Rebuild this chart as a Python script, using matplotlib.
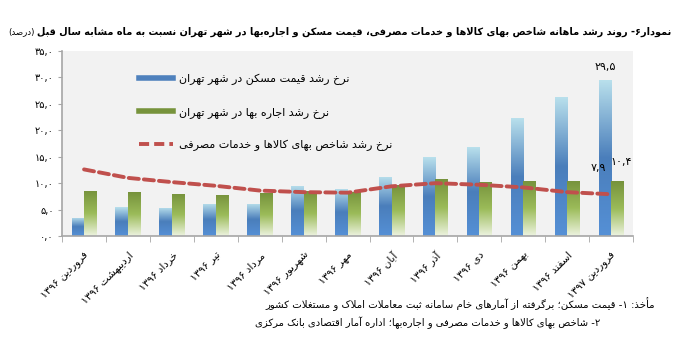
import re

import matplotlib
matplotlib.use('Agg')
import matplotlib.pyplot as plt
import numpy as np
from matplotlib.colors import LinearSegmentedColormap
from matplotlib.lines import Line2D
from matplotlib.ticker import FuncFormatter

# data (percent, y/y growth, Tehran)
months = ['فروردین ۱۳۹۶', 'اردیبهشت ۱۳۹۶', 'خرداد ۱۳۹۶', 'تیر ۱۳۹۶', 'مرداد ۱۳۹۶',
          'شهریور ۱۳۹۶', 'مهر ۱۳۹۶', 'آبان ۱۳۹۶', 'آذر ۱۳۹۶', 'دی ۱۳۹۶',
          'بهمن ۱۳۹۶', 'اسفند ۱۳۹۶', 'فروردین ۱۳۹۷']
housing_price = [3.5, 5.4, 5.3, 6.1, 6.1, 9.5, 8.9, 11.2, 14.9, 16.8, 22.3, 26.3, 29.5]
rent = [8.6, 8.3, 8.0, 7.8, 8.1, 8.5, 8.4, 9.6, 10.7, 10.3, 10.5, 10.5, 10.4]
cpi = [12.6, 11.0, 10.2, 9.5, 8.6, 8.3, 8.2, 9.4, 10.0, 9.7, 9.2, 8.3, 7.9]

series_names = ['نرخ رشد قیمت مسکن در شهر تهران',
                'نرخ رشد اجاره بها در شهر تهران',
                'نرخ رشد شاخص بهای کالاها و خدمات مصرفی']
title = 'نمودار۶- روند رشد ماهانه شاخص بهای کالاها و خدمات مصرفی، قیمت مسکن و اجاره‌بها در شهر تهران نسبت به ماه مشابه سال قبل'
title_unit = '(درصد)'
source_1 = 'مأخذ: ۱- قیمت مسکن؛ برگرفته از آمارهای خام سامانه ثبت معاملات املاک و مستغلات کشور'
source_2 = '۲- شاخص بهای کالاها و خدمات مصرفی و اجاره‌بها؛ اداره آمار اقتصادی بانک مرکزی'


# --- minimal Persian shaping + RTL reordering (matplotlib has no text shaping) ---
FORMS = {
    'ء': (0xFE80, 1), 'آ': (0xFE81, 2), 'أ': (0xFE83, 2), 'ؤ': (0xFE85, 2), 'إ': (0xFE87, 2),
    'ئ': (0xFE89, 4), 'ا': (0xFE8D, 2), 'ب': (0xFE8F, 4), 'ة': (0xFE93, 2), 'ت': (0xFE95, 4),
    'ث': (0xFE99, 4), 'ج': (0xFE9D, 4), 'ح': (0xFEA1, 4), 'خ': (0xFEA5, 4), 'د': (0xFEA9, 2),
    'ذ': (0xFEAB, 2), 'ر': (0xFEAD, 2), 'ز': (0xFEAF, 2), 'س': (0xFEB1, 4), 'ش': (0xFEB5, 4),
    'ص': (0xFEB9, 4), 'ض': (0xFEBD, 4), 'ط': (0xFEC1, 4), 'ظ': (0xFEC5, 4), 'ع': (0xFEC9, 4),
    'غ': (0xFECD, 4), 'ف': (0xFED1, 4), 'ق': (0xFED5, 4), 'ك': (0xFED9, 4), 'ل': (0xFEDD, 4),
    'م': (0xFEE1, 4), 'ن': (0xFEE5, 4), 'ه': (0xFEE9, 4), 'و': (0xFEED, 2), 'ي': (0xFEF1, 4),
    'پ': (0xFB56, 4), 'چ': (0xFB7A, 4), 'ژ': (0xFB8A, 2), 'ک': (0xFB8E, 4), 'گ': (0xFB92, 4),
    'ی': (0xFBFC, 4),
}
LAM_ALEF = {'ا': 0xFEFB, 'آ': 0xFEF5, 'أ': 0xFEF7, 'إ': 0xFEF9}
FA_DIGITS = str.maketrans('0123456789', '۰۱۲۳۴۵۶۷۸۹')


def shape(text):
    tokens = []
    i = 0
    while i < len(text):
        c = text[i]
        if c == 'ل' and i + 1 < len(text) and text[i + 1] in LAM_ALEF:
            tokens.append((LAM_ALEF[text[i + 1]], 2))
            i += 2
            continue
        tokens.append(FORMS.get(c, c))
        i += 1
    out = []
    for k, t in enumerate(tokens):
        if isinstance(t, str):
            if t != '\u200c':
                out.append(t)
            continue
        base, n = t
        prev = tokens[k - 1] if k > 0 else None
        nxt = tokens[k + 1] if k + 1 < len(tokens) else None
        join_prev = isinstance(prev, tuple) and prev[1] == 4 and n > 1
        join_next = n == 4 and isinstance(nxt, tuple) and nxt[1] > 1
        if join_prev and join_next:
            f = 3
        elif join_prev:
            f = 1
        elif join_next:
            f = 2
        else:
            f = 0
        out.append(chr(base + f))
    vis = ''.join(out[::-1]).translate(str.maketrans('()', ')('))
    # numbers keep left-to-right order
    return re.sub(r'[0-9۰-۹]+(?:[.,][0-9۰-۹]+)*', lambda m: m.group(0)[::-1], vis)


def fa_num(v):
    return f'{v:.1f}'.replace('.', ',').translate(FA_DIGITS)


blue_cmap = LinearSegmentedColormap.from_list('blue', ['#5590d6', '#4a7ebb', '#b9e0ec'])
green_cmap = LinearSegmentedColormap.from_list('green', ['#edf3e0', '#9bbb59', '#76923c'])

plt.rcParams['font.family'] = ['DejaVu Sans']

fig = plt.figure(figsize=(6.75, 3.51), dpi=100)
ax = fig.add_axes([0.092, 0.3276, 0.8459, 0.527])
ax.set_facecolor('#f2f2f2')

x = np.arange(len(months))
w = 0.285
grad = np.linspace(0, 1, 256).reshape(-1, 1)

for offset, values, cmap in [(-w / 2, housing_price, blue_cmap), (w / 2, rent, green_cmap)]:
    bars = ax.bar(x + offset, values, width=w, facecolor='none', edgecolor='none', zorder=2)
    for b in bars:
        x0, y0 = b.get_x(), b.get_y()
        img = ax.imshow(grad, cmap=cmap, origin='lower', aspect='auto', zorder=2,
                        extent=[x0, x0 + b.get_width(), y0, y0 + b.get_height()])
        img.set_clip_path(b)

ax.plot(x, cpi, color='#c0504d', lw=2.8, linestyle=(0, (2.6, 1.3)),
        dash_capstyle='round', zorder=3)

ax.set_xlim(-0.5, len(months) - 0.5)
ax.set_ylim(0, 35)
ax.set_yticks(np.arange(0, 36, 5))
ax.yaxis.set_major_formatter(FuncFormatter(lambda v, p: fa_num(v)))
ax.tick_params(axis='y', labelsize=7, length=3, color='#a6a6a6', pad=3)

ax.set_xticks(x)
ax.set_xticklabels([shape(m) for m in months], rotation=45, ha='right',
                   rotation_mode='anchor', fontsize=7.5)
ax.set_xticks(np.arange(-0.5, len(months)), minor=True)
ax.tick_params(axis='x', which='major', length=0, pad=10)
ax.tick_params(axis='x', which='minor', length=4, color='#a6a6a6')

for s in ['top', 'right']:
    ax.spines[s].set_visible(False)
for s in ['left', 'bottom']:
    ax.spines[s].set_color('#a6a6a6')
    ax.spines[s].set_linewidth(1.2)

# value labels for the latest month
last = len(months) - 1
ax.annotate(fa_num(housing_price[last]), (x[last] - w / 2, housing_price[last]),
            xytext=(0, 6), textcoords='offset points', ha='center', va='bottom', fontsize=8)
ax.annotate(fa_num(rent[last]), (x[last] + w / 2, rent[last]),
            xytext=(3, 14), textcoords='offset points', ha='center', va='center', fontsize=8)
ax.annotate(fa_num(cpi[last]), (x[last], cpi[last]),
            xytext=(-9, 19), textcoords='offset points', ha='center', va='center', fontsize=8)

handles = [Line2D([], [], color='#4f81bd', lw=4),
           Line2D([], [], color='#77933c', lw=4),
           Line2D([], [], color='#c0504d', lw=2.8, linestyle=(0, (2.6, 1.3)))]
ax.legend(handles, [shape(s) for s in series_names], loc='upper left',
          bbox_to_anchor=(0.135, 0.88), frameon=False, fontsize=8, labelspacing=2.0,
          handlelength=3.0, handletextpad=0.6, borderpad=0, borderaxespad=0)

# title: bold main part + regular unit, scaled to span the figure width
t_main = fig.text(0.995, 0.909, shape(title), ha='right', va='center',
                  fontsize=8.5, fontweight='bold')
t_unit = fig.text(0.0, 0.909, shape(title_unit), ha='right', va='center', fontsize=7.5)
fig.canvas.draw()
total = t_main.get_window_extent().width + t_unit.get_window_extent().width + 3
scale = 660 / total
t_main.set_fontsize(8.5 * scale)
t_unit.set_fontsize(7.5 * scale)
fig.canvas.draw()
bb = t_main.get_window_extent()
t_unit.set_x((bb.x0 - 3) / fig.bbox.width)

fig.text(0.970, 0.134, shape(source_1), ha='right', va='center', fontsize=7.3)
fig.text(0.889, 0.080, shape(source_2), ha='right', va='center', fontsize=7.2)

fig.savefig('out.png', dpi=100)
